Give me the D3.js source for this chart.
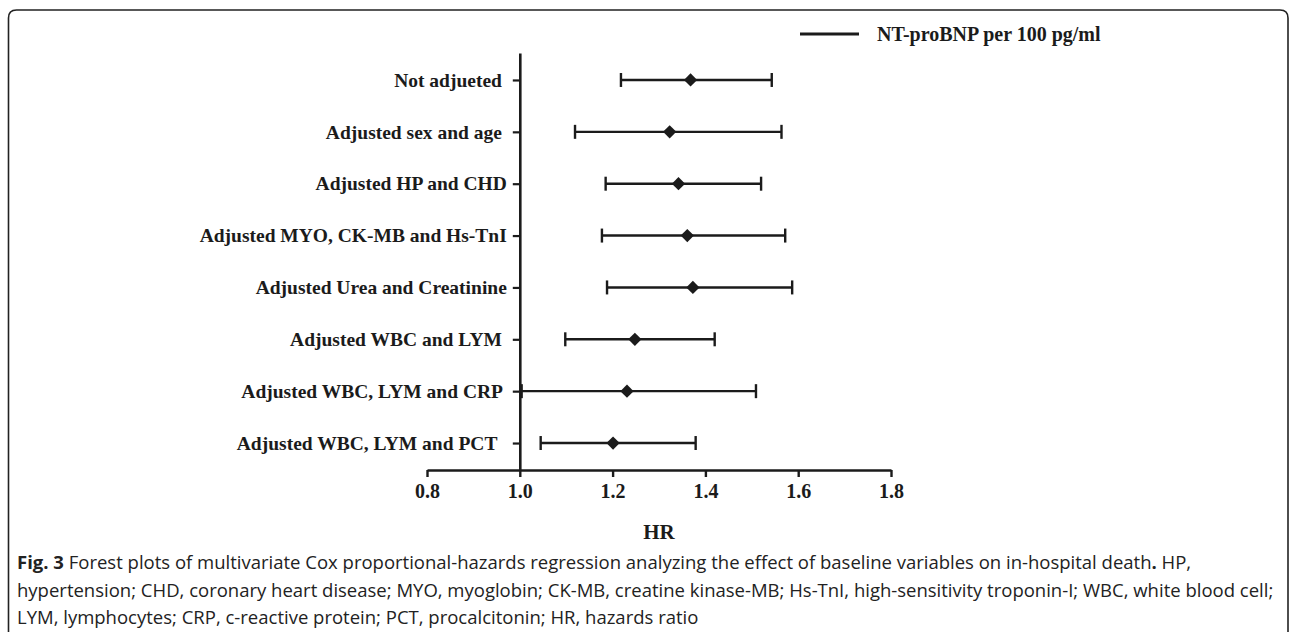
<!DOCTYPE html>
<html>
<head>
<meta charset="utf-8">
<script src="https://cdn.jsdelivr.net/npm/d3@7"></script>
<style>
  html, body { margin: 0; padding: 0; background: #fff; }
  svg { display: block; }
  .ylab text { white-space: pre; }
</style>
</head>
<body>
<div id="chart"></div>
<script>
// rows, top to bottom (some labels carry a trailing space, as in the original)
const labels = [
  'Not adjueted ',
  'Adjusted sex and age ',
  'Adjusted HP and CHD',
  'Adjusted MYO, CK-MB and Hs-TnI',
  'Adjusted Urea and Creatinine',
  'Adjusted WBC and LYM ',
  'Adjusted WBC, LYM and CRP ',
  'Adjusted WBC, LYM and PCT  ',
];
const hr = [1.368, 1.323, 1.342, 1.361, 1.373, 1.248, 1.231, 1.201];
const lower = [1.218, 1.119, 1.185, 1.177, 1.188, 1.098, 1.004, 1.045];
const upper = [1.543, 1.564, 1.520, 1.572, 1.587, 1.420, 1.509, 1.379];
const xTicks = [0.8, 1.0, 1.2, 1.4, 1.6, 1.8];
const legendLabel = 'NT-proBNP per 100 pg/ml';
const xTitle = 'HR';

const captionLines = [
  [['Fig. 3', true], [' Forest plots of multivariate Cox proportional-hazards regression analyzing the effect of baseline variables on in-hospital death', false], ['.', true], [' HP,', false]],
  [['hypertension; CHD, coronary heart disease; MYO, myoglobin; CK-MB, creatine kinase-MB; Hs-TnI, high-sensitivity troponin-I; WBC, white blood cell;', false]],
  [['LYM, lymphocytes; CRP, c-reactive protein; PCT, procalcitonin; HR, hazards ratio', false]],
];

const width = 1290;
const height = 632;
const ink = '#1b1b1b';
const serif = '"Liberation Serif", "Times New Roman", serif';

const svg = d3.select('#chart').append('svg')
  .attr('width', width)
  .attr('height', height);

// frame round the figure (top, left, right, rounded corners)
svg.append('path')
  .attr('d', `M8.5,${height} L8.5,18 Q8.5,10 16.5,10 L1280,10 Q1288,10 1288,18 L1288,${height}`)
  .attr('fill', 'none')
  .attr('stroke', '#222')
  .attr('stroke-width', 1.6);

const xScale = d3.scaleLinear().domain([0.8, 1.8]).range([427, 891]);
const yScale = d3.scalePoint().domain(labels).range([53, 470]).padding(0.52);
const axisY = 470;
const zeroX = xScale(1.0);

// x axis
const gx = svg.append('g')
  .attr('transform', `translate(0,${axisY})`)
  .call(d3.axisBottom(xScale).tickValues(xTicks).tickFormat(d3.format('.1f')).tickSize(7).tickSizeOuter(0));
gx.select('.domain').attr('stroke', ink).attr('stroke-width', 2.6);
gx.selectAll('.tick line').attr('stroke', ink).attr('stroke-width', 2.4);
gx.selectAll('.tick text')
  .attr('fill', ink)
  .attr('font-family', serif)
  .attr('font-weight', 'bold')
  .attr('font-size', '20px')
  .attr('dy', '0.71em')
  .attr('y', 14);

// y axis at HR = 1
const gy = svg.append('g')
  .attr('class', 'ylab')
  .attr('transform', `translate(${zeroX},0)`)
  .call(d3.axisLeft(yScale).tickSize(7).tickSizeOuter(0).tickPadding(6));
gy.select('.domain').attr('stroke', ink).attr('stroke-width', 2.6);
gy.selectAll('.tick line').attr('stroke', ink).attr('stroke-width', 2.2);
gy.selectAll('.tick text')
  .attr('fill', ink)
  .attr('font-family', serif)
  .attr('font-weight', 'bold')
  .attr('font-size', '19.5px');

// x title
svg.append('text')
  .attr('x', xScale(1.3))
  .attr('y', 532)
  .attr('dy', '0.35em')
  .attr('text-anchor', 'middle')
  .attr('fill', ink)
  .attr('font-family', serif)
  .attr('font-weight', 'bold')
  .attr('font-size', '21px')
  .text(xTitle);

// confidence intervals and point estimates
const rows = labels.map((label, i) => ({ label, hr: hr[i], lo: lower[i], hi: upper[i] }));
const capHalf = 7;
const rowG = svg.append('g').selectAll('g').data(rows).join('g');

rowG.append('line')
  .attr('x1', d => xScale(d.lo))
  .attr('x2', d => xScale(d.hi))
  .attr('y1', d => yScale(d.label))
  .attr('y2', d => yScale(d.label))
  .attr('stroke', ink)
  .attr('stroke-width', 2.4);

rowG.selectAll('line.cap')
  .data(d => [d.lo, d.hi].map(v => ({ v, y: yScale(d.label) })))
  .join('line')
  .attr('class', 'cap')
  .attr('x1', c => xScale(c.v))
  .attr('x2', c => xScale(c.v))
  .attr('y1', c => c.y - capHalf)
  .attr('y2', c => c.y + capHalf)
  .attr('stroke', ink)
  .attr('stroke-width', 2.4);

rowG.append('path')
  .attr('d', d3.symbol(d3.symbolSquare, 88))
  .attr('transform', d => `translate(${xScale(d.hr)},${yScale(d.label)}) rotate(45)`)
  .attr('fill', ink);

// legend
const legendY = 34;
svg.append('line')
  .attr('x1', 800).attr('x2', 859)
  .attr('y1', legendY).attr('y2', legendY)
  .attr('stroke', ink)
  .attr('stroke-width', 3);
svg.append('text')
  .attr('x', 877)
  .attr('y', legendY)
  .attr('dy', '0.33em')
  .attr('fill', ink)
  .attr('font-family', serif)
  .attr('font-weight', 'bold')
  .attr('font-size', '20px')
  .text(legendLabel);

// caption
const caption = svg.append('text')
  .attr('font-family', '"Open Sans", "Noto Sans", sans-serif')
  .attr('font-size', '18.5px')
  .attr('fill', '#222');
captionLines.forEach((parts, li) => {
  parts.forEach(([txt, bold], pi) => {
    const t = caption.append('tspan').text(txt).attr('font-weight', bold ? 'bold' : 'normal');
    if (pi === 0) t.attr('x', 17).attr('y', 569 + li * 27.5);
  });
});
</script>
</body>
</html>
